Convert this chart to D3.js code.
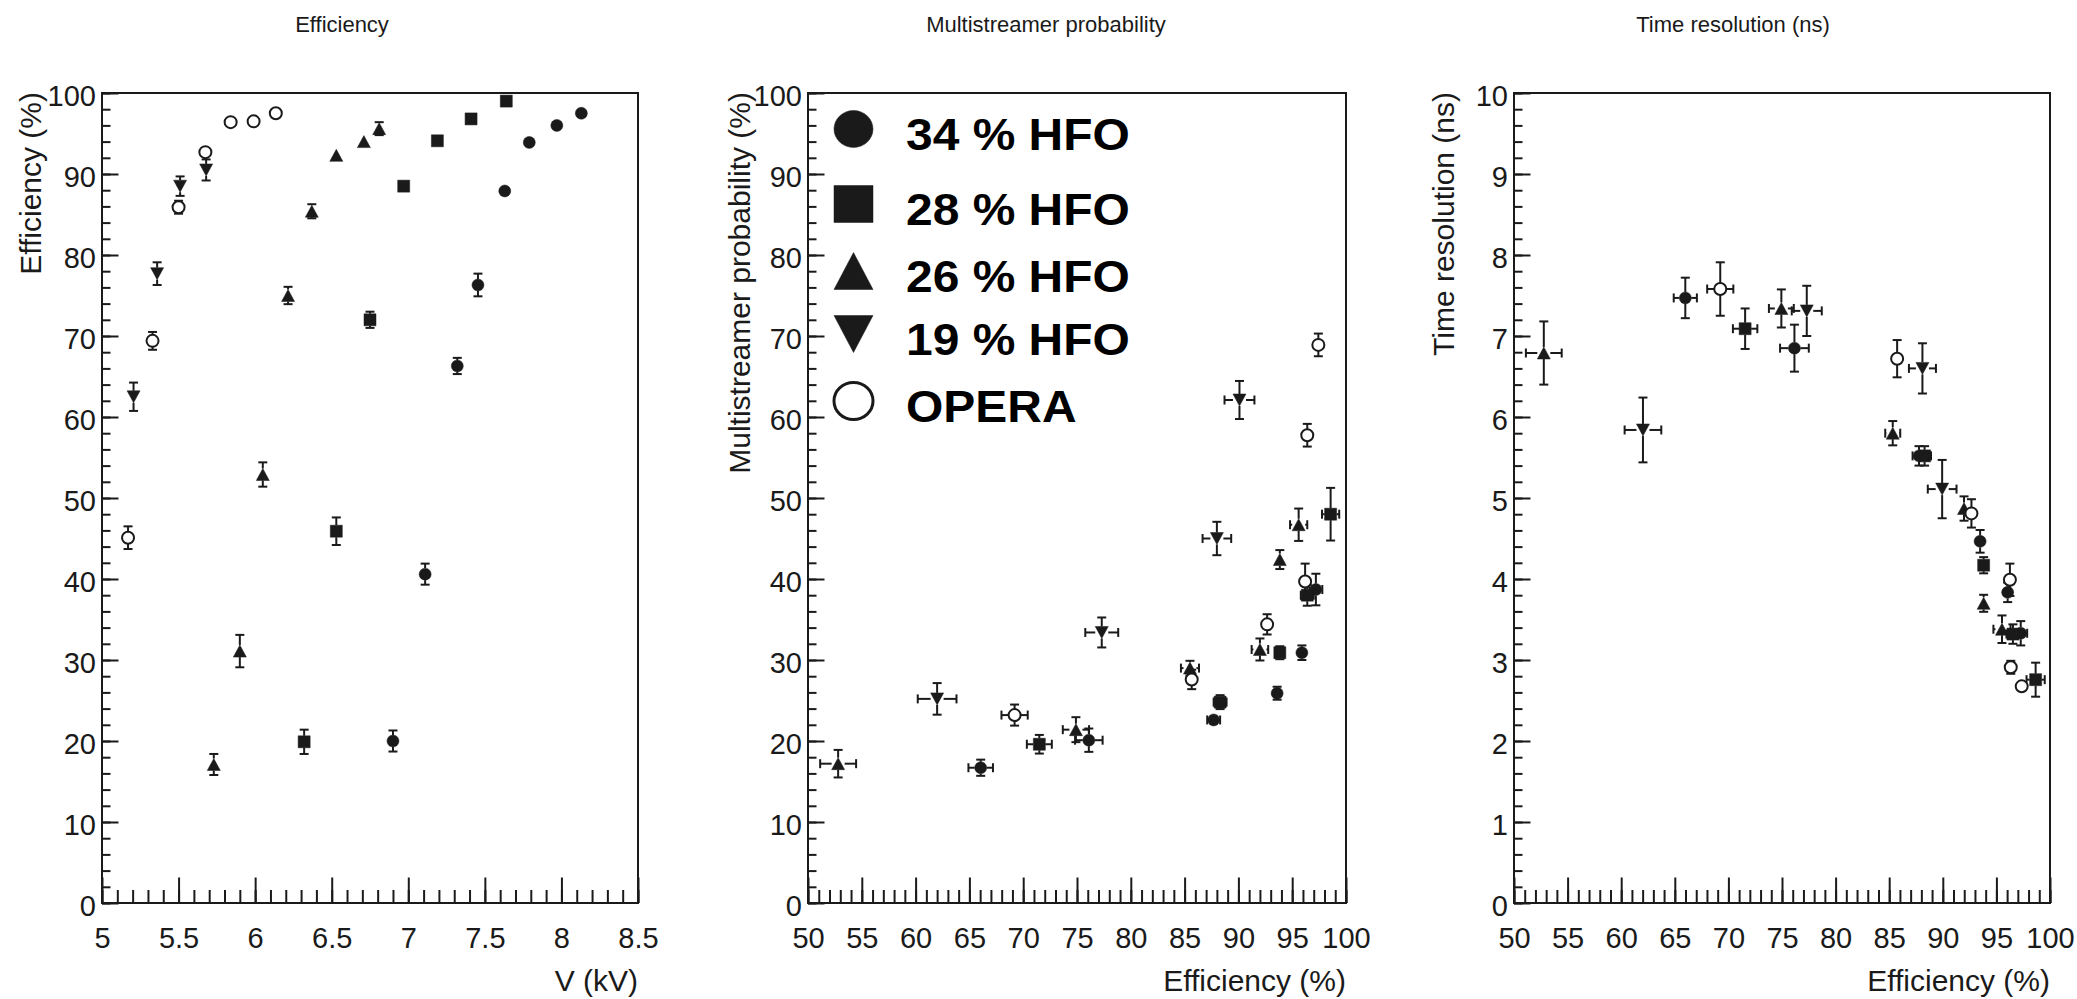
<!DOCTYPE html>
<html>
<head>
<meta charset="utf-8">
<script src="https://cdn.jsdelivr.net/npm/d3@7"></script>
<style>
  body { margin: 0; background: #fff; }
  svg { display: block; font-family: "Liberation Sans", Arial, Helvetica, sans-serif; }
</style>
</head>
<body>
<div id="chart"></div>
<script>
// legend / series names
const seriesNames = ['34 % HFO', '28 % HFO', '26 % HFO', '19 % HFO', 'OPERA'];
const seriesShapes = ['circle', 'square', 'up', 'down', 'open'];

// tick labels
const vTicks = [5, 5.5, 6, 6.5, 7, 7.5, 8, 8.5];
const effTicks = [50, 55, 60, 65, 70, 75, 80, 85, 90, 95, 100];
const pctTicks = [0, 10, 20, 30, 40, 50, 60, 70, 80, 90, 100];
const nsTicks = [0, 1, 2, 3, 4, 5, 6, 7, 8, 9, 10];

// panel 1: [V (kV), efficiency (%), x err, y err]
const eff34 = [[6.90,20.0,0,1.3],[7.11,40.6,0,1.3],[7.32,66.3,0,1.0],[7.455,76.3,0,1.4],[7.63,87.9,0,0.6],[7.79,93.9,0,0.6],[7.97,96.0,0,0.5],[8.13,97.5,0,0.5]];
const eff28 = [[6.32,19.9,0,1.5],[6.53,45.9,0,1.7],[6.75,72.0,0,1.0],[6.97,88.5,0,0.5],[7.19,94.1,0,0.5],[7.41,96.8,0,0.5],[7.64,99.0,0,0.4]];
const eff26 = [[5.73,17.1,0,1.3],[5.90,31.1,0,2.0],[6.05,52.9,0,1.5],[6.215,75.0,0,1.07],[6.37,85.4,0,0.87],[6.53,92.3,0,0.5],[6.71,94.0,0,0.5],[6.81,95.6,0,0.8]];
const eff19 = [[5.206,62.5,0,1.75],[5.36,77.7,0,1.4],[5.51,88.5,0,1.2],[5.68,90.5,0,1.3]];
const effOpera = [[5.17,45.1,0,1.4],[5.33,69.4,0,1.1],[5.50,85.9,0,0.8],[5.675,92.7,0,0.6],[5.84,96.4,0,0.6],[5.99,96.5,0,0.5],[6.135,97.5,0,0.5]];

// panel 2: [efficiency (%), multistreamer (%), x err, y err]
const ms34 = [[66.05,16.7,1.14,1.0],[76.1,20.1,1.28,1.44],[87.7,22.6,0.6,0.6],[93.6,25.9,0.5,0.8],[95.9,30.9,0.5,0.9],[97.2,38.7,0.6,1.95]];
const ms28 = [[71.5,19.6,1.16,1.15],[88.3,24.8,0.6,0.86],[93.85,30.9,0.5,0.8],[96.4,38.0,0.6,1.3],[98.57,48.0,0.8,3.25]];
const ms26 = [[52.8,17.2,1.67,1.7],[74.9,21.4,1.22,1.54],[85.5,29.0,0.84,0.9],[92.0,31.3,0.77,1.36],[93.85,42.4,0.6,1.17],[95.6,46.7,0.8,2.0]];
const ms19 = [[62.0,25.2,1.8,1.95],[77.3,33.4,1.53,1.85],[88.0,45.0,1.33,2.06],[90.1,62.1,1.39,2.35]];
const msOpera = [[69.2,23.2,1.22,1.3],[85.66,27.6,0.5,1.2],[92.67,34.4,0.5,1.25],[96.2,39.7,0.5,2.2],[96.4,57.75,0.5,1.4],[97.43,68.9,0.5,1.4]];

// panel 3: [efficiency (%), time resolution (ns), x err, y err]
const tr34 = [[65.98,7.47,1.08,0.25],[76.16,6.85,1.34,0.29],[87.78,5.52,0.6,0.12],[93.48,4.465,0.5,0.14],[96.05,3.835,0.5,0.12],[97.27,3.33,0.6,0.15]];
const tr28 = [[71.56,7.09,1.14,0.25],[88.3,5.52,0.6,0.12],[93.81,4.17,0.5,0.1],[96.54,3.32,0.6,0.12],[98.66,2.757,0.85,0.21]];
const tr26 = [[52.78,6.79,1.67,0.39],[74.94,7.34,1.16,0.235],[85.33,5.80,0.7,0.15],[91.98,4.87,0.6,0.15],[93.81,3.70,0.5,0.105],[95.52,3.38,0.8,0.17]];
const tr19 = [[62.03,5.84,1.71,0.40],[77.31,7.31,1.4,0.31],[88.1,6.60,1.26,0.31],[89.94,5.11,1.34,0.36]];
const trOpera = [[69.24,7.58,1.22,0.33],[85.74,6.72,0.5,0.23],[92.67,4.81,0.5,0.175],[96.26,3.99,0.5,0.2],[96.34,2.91,0.5,0.08],[97.36,2.675,0.5,0.05]];

const width = 2077;
const height = 999;
const frameTop = 93;
const frameBottom = 903;
const ink = '#1a1a1a';
const legendRowY = [150, 225, 292, 355, 422];

const panels = [
  {left: 102, right: 638, titleX: 342, title: 'Efficiency', xTitle: 'V (kV)', yTitle: 'Efficiency (%)', yTitleX: 41,
   xDomain: [5, 8.5], yDomain: [0, 100], xTicks: vTicks, yTicks: pctTicks,
   xMinor: d3.range(0, 36).map(i => 5 + i * 0.1), yMinor: d3.range(0, 51).map(i => i * 2),
   series: [eff34, eff28, eff26, eff19, effOpera]},
  {left: 808, right: 1346, titleX: 1046, title: 'Multistreamer probability', xTitle: 'Efficiency (%)', yTitle: 'Multistreamer probability (%)', yTitleX: 750,
   xDomain: [50, 100], yDomain: [0, 100], xTicks: effTicks, yTicks: pctTicks,
   xMinor: d3.range(50, 101), yMinor: d3.range(0, 51).map(i => i * 2),
   series: [ms34, ms28, ms26, ms19, msOpera], legend: true},
  {left: 1514, right: 2050, titleX: 1733, title: 'Time resolution (ns)', xTitle: 'Efficiency (%)', yTitle: 'Time resolution (ns)', yTitleX: 1454,
   xDomain: [50, 100], yDomain: [0, 10], xTicks: effTicks, yTicks: nsTicks,
   xMinor: d3.range(50, 101), yMinor: d3.range(0, 51).map(i => i * 0.2),
   series: [tr34, tr28, tr26, tr19, trOpera]}
];

const svg = d3.select('#chart').append('svg')
  .attr('width', width)
  .attr('height', height)
  .style('background', '#fff');

// marker path, w/h = half width / half height
function markerPath(shape, w, h) {
  if (shape === 'square') return `M${-w},${-h}H${w}V${h}H${-w}Z`;
  if (shape === 'up') return `M0,${-h}L${w},${h}L${-w},${h}Z`;
  if (shape === 'down') return `M0,${h}L${w},${-h}L${-w},${-h}Z`;
  return `M${-w},0A${w},${h} 0 1,0 ${w},0A${w},${h} 0 1,0 ${-w},0Z`;
}

function drawMarker(g, shape, cx, cy, w, h, sw) {
  g.append('path')
    .attr('transform', `translate(${cx},${cy})`)
    .attr('d', markerPath(shape, w, h))
    .attr('fill', shape === 'open' ? '#fff' : ink)
    .attr('stroke', ink)
    .attr('stroke-width', shape === 'open' ? sw : 0.5);
}

panels.forEach(p => {
  const x = d3.scaleLinear().domain(p.xDomain).range([p.left, p.right]);
  const y = d3.scaleLinear().domain(p.yDomain).range([frameBottom, frameTop]);
  const g = svg.append('g');

  // minor ticks
  g.append('g')
    .attr('transform', `translate(0,${frameBottom})`)
    .call(d3.axisBottom(x).tickValues(p.xMinor).tickSize(-13).tickFormat(''))
    .call(a => a.select('.domain').remove());
  g.append('g')
    .attr('transform', `translate(${p.left},0)`)
    .call(d3.axisLeft(y).tickValues(p.yMinor).tickSize(-8.5).tickFormat(''))
    .call(a => a.select('.domain').remove());

  // major ticks + labels
  g.append('g')
    .attr('transform', `translate(0,${frameBottom})`)
    .call(d3.axisBottom(x).tickValues(p.xTicks).tickSize(-25.5).tickFormat(d => String(d)))
    .call(a => a.select('.domain').remove())
    .call(a => a.selectAll('text')
      .attr('y', 45).attr('dy', null));
  g.append('g')
    .attr('transform', `translate(${p.left},0)`)
    .call(d3.axisLeft(y).tickValues(p.yTicks).tickSize(-16.5).tickFormat(d => String(d)))
    .call(a => a.select('.domain').remove())
    .call(a => a.selectAll('text')
      .attr('x', -6).attr('dy', null).attr('y', 12));

  g.selectAll('.tick line').attr('stroke-width', 2);
  g.selectAll('.tick').attr('color', ink);
  g.selectAll('g').filter(function () { return this.parentNode === g.node(); })
    .attr('font-size', 29).attr('font-family', null);

  // frame
  g.append('rect')
    .attr('x', p.left).attr('y', frameTop)
    .attr('width', p.right - p.left).attr('height', frameBottom - frameTop)
    .attr('fill', 'none').attr('stroke', ink).attr('stroke-width', 2);

  // title
  svg.append('text')
    .attr('x', p.titleX).attr('y', 32)
    .attr('text-anchor', 'middle')
    .attr('font-size', 22)
    .attr('fill', ink)
    .text(p.title);

  // axis titles
  svg.append('text')
    .attr('x', p.right).attr('y', 991)
    .attr('text-anchor', 'end')
    .attr('font-size', 30)
    .attr('fill', ink)
    .text(p.xTitle);
  svg.append('text')
    .attr('transform', `translate(${p.yTitleX},92) rotate(-90)`)
    .attr('text-anchor', 'end')
    .attr('font-size', 30)
    .attr('fill', ink)
    .text(p.yTitle);

  // points with error bars
  const pts = g.append('g');
  p.series.forEach((s, si) => {
    const shape = seriesShapes[si];
    const mw = shape === 'up' || shape === 'down' ? 6.5 : 6;
    const mh = 6;
    s.forEach(([vx, vy, ex, ey]) => {
      const cx = x(vx), cy = y(vy);
      const dx = x(vx + ex) - cx;
      const dy = cy - y(vy + ey);
      const bars = pts.append('g').attr('stroke', ink).attr('stroke-width', 2);
      if (dy > mh) {
        bars.append('line').attr('x1', cx).attr('x2', cx).attr('y1', cy - mh).attr('y2', cy - dy);
        bars.append('line').attr('x1', cx).attr('x2', cx).attr('y1', cy + mh).attr('y2', cy + dy);
        bars.append('line').attr('x1', cx - 4.5).attr('x2', cx + 4.5).attr('y1', cy - dy).attr('y2', cy - dy);
        bars.append('line').attr('x1', cx - 4.5).attr('x2', cx + 4.5).attr('y1', cy + dy).attr('y2', cy + dy);
      }
      if (dx > mw) {
        bars.append('line').attr('y1', cy).attr('y2', cy).attr('x1', cx - mw).attr('x2', cx - dx);
        bars.append('line').attr('y1', cy).attr('y2', cy).attr('x1', cx + mw).attr('x2', cx + dx);
        bars.append('line').attr('y1', cy - 4.5).attr('y2', cy + 4.5).attr('x1', cx - dx).attr('x2', cx - dx);
        bars.append('line').attr('y1', cy - 4.5).attr('y2', cy + 4.5).attr('x1', cx + dx).attr('x2', cx + dx);
      }
      drawMarker(pts, shape, cx, cy, mw, mh, 2);
    });
  });

  // legend
  if (p.legend) {
    const lg = g.append('g');
    seriesNames.forEach((name, i) => {
      const base = legendRowY[i];
      drawMarker(lg, seriesShapes[i], p.left + 45.5, base - 21, 19.5, 18.5, 3);
      lg.append('text')
        .attr('transform', `translate(${p.left + 98},${base}) scale(1.09,1)`)
        .attr('font-size', 44)
        .attr('font-weight', 'bold')
        .attr('fill', '#000')
        .text(name);
    });
  }
});
</script>
</body>
</html>
